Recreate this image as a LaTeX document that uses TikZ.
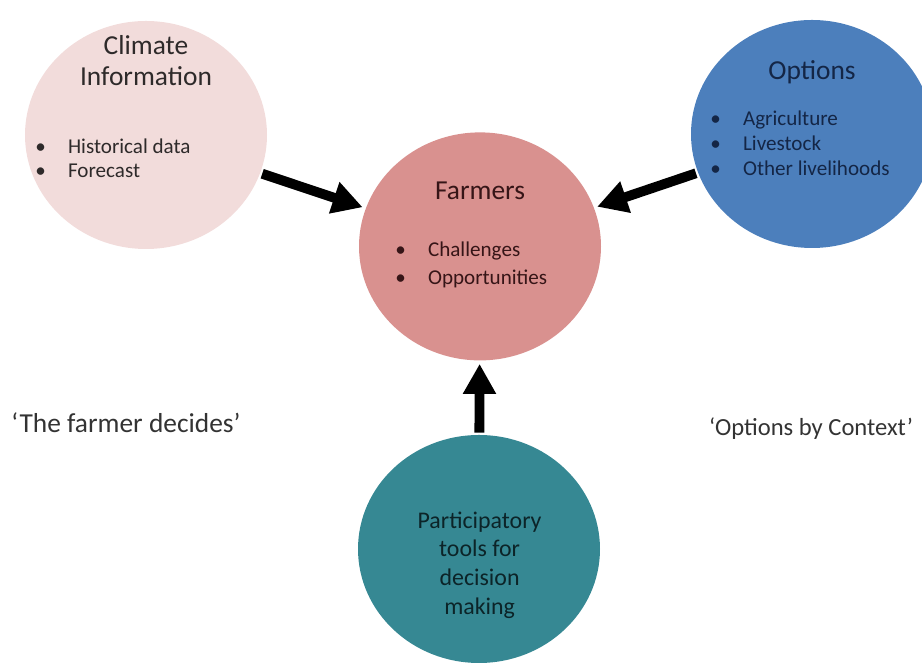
\documentclass[tikz,border=0pt]{standalone}
\usepackage{fontspec}
\setmainfont{Carlito}
\usetikzlibrary{arrows.meta, shapes.geometric}

\definecolor{climfill}{HTML}{F2DCDB}
\definecolor{farmfill}{HTML}{D9918F}
\definecolor{optfill}{HTML}{4C7FBC}
\definecolor{partfill}{HTML}{368893}
\definecolor{climtext}{HTML}{2E2A2A}
\definecolor{farmtext}{HTML}{361517}
\definecolor{opttext}{HTML}{142646}
\definecolor{parttext}{HTML}{0C2428}

\newcommand{\itemdot}{\makebox[0.82cm][l]{\textbullet}}

\begin{document}
\begin{tikzpicture}[
  bubble/.style={ellipse, draw=none, inner sep=0pt, minimum width=6.05cm, minimum height=5.7cm},
  title/.style={align=center, font=\fontsize{19.5}{22}\selectfont},
  items/.style={align=left, anchor=west, inner sep=0pt},
  bigarrow/.style={line width=7pt, -{Triangle[length=0.75cm, width=0.78cm]}, shorten >=0.08cm, shorten <=0.05cm}
]
\useasboundingbox (0,0) rectangle (23.05,16.575);

% circles
\node[bubble, fill=climfill] (climate) at (3.65,13.2) {};
\node[bubble, fill=farmfill] (farmers) at (12.0,10.415) {};
\node[bubble, fill=optfill] (options) at (20.3,13.225) {};
\node[bubble, fill=partfill] (tools) at (11.975,2.85) {};

% Climate information
\node[title, text=climtext] (climtitle) at (3.65,15.05) {Climate\\Information};
\node[items, text=climtext, font=\fontsize{15}{17}\selectfont] (climlist) at (0.875,12.62)
  {\itemdot Historical data\\\itemdot Forecast};

% Farmers
\node[title, text=farmtext] (farmtitle) at (12.0,11.8) {Farmers};
\node[items, text=farmtext, font=\fontsize{15}{19.8}\selectfont] (farmlist) at (9.875,9.95)
  {\itemdot Challenges\\\itemdot Opportunities};

% Options
\node[title, text=opttext] (opttitle) at (20.3,14.775) {Options};
\node[items, text=opttext, font=\fontsize{15}{17.7}\selectfont] (optlist) at (17.75,13.0)
  {\itemdot Agriculture\\\itemdot Livestock\\\itemdot Other livelihoods};

% Participatory tools
\node[align=center, text=parttext, font=\fontsize{17}{20.3}\selectfont] (toolstext) at (11.99,2.45)
  {Participatory\\tools for\\decision\\making};

% arrows into the farmers
\draw[bigarrow] (climate) -- (farmers);
\draw[bigarrow] (options) -- (farmers);
\draw[bigarrow] (tools) -- (farmers);

% side labels
\node[font=\fontsize{19.5}{22}\selectfont, text=black!80] (decides) at (3.15,6.0) {`The farmer decides'};
\node[font=\fontsize{17.5}{22}\selectfont, text=black!80, anchor=east] (context) at (22.95,5.85) {`Options by Context'};

\end{tikzpicture}
\end{document}
